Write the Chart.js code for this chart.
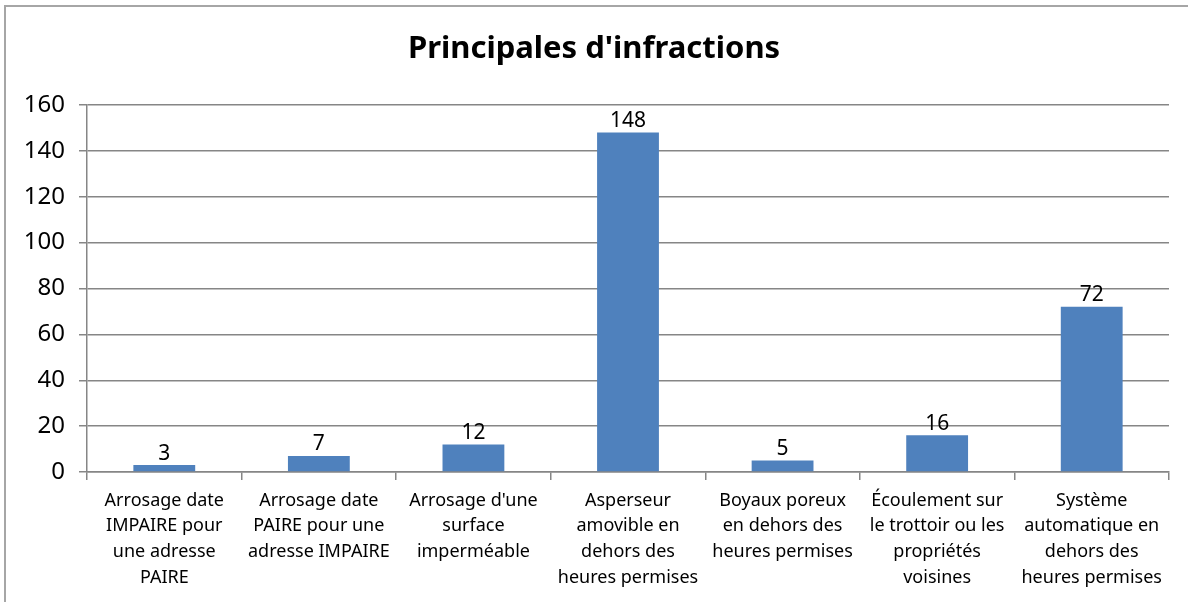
<!DOCTYPE html>
<html>
<head>
<meta charset="utf-8">
<script src="https://cdn.jsdelivr.net/npm/chart.js@4"></script>
<style>
  html, body { margin: 0; padding: 0; background: #fff; }
  #wrap { position: relative; width: 1188px; height: 602px; }
</style>
</head>
<body>
<div id="wrap"><canvas id="myChart" width="1188" height="602"></canvas></div>
<script>
const categories = [
  ["Arrosage date", "IMPAIRE pour", "une adresse", "PAIRE"],
  ["Arrosage date", "PAIRE pour une", "adresse IMPAIRE"],
  ["Arrosage d'une", "surface", "imperméable"],
  ["Asperseur", "amovible en", "dehors des", "heures permises"],
  ["Boyaux poreux", "en dehors des", "heures permises"],
  ["Écoulement sur", "le trottoir ou les", "propriétés", "voisines"],
  ["Système", "automatique en", "dehors des", "heures permises"]
];
const infractions = [3, 7, 12, 148, 5, 16, 72];
const yTicks = [0, 20, 40, 60, 80, 100, 120, 140, 160];
const titleText = "Principales d'infractions";

const FONT = "'Noto Sans', 'Open Sans', sans-serif";
const GRID = "#868686";

// cadre gris autour du graphique (haut + gauche seulement visibles)
const frame = {
  id: "frame",
  beforeDraw(chart) {
    const ctx = chart.ctx;
    ctx.save();
    ctx.strokeStyle = "#a6a6a6";
    ctx.lineWidth = 2;
    ctx.beginPath();
    ctx.moveTo(5, 610);
    ctx.lineTo(5, 6);
    ctx.lineTo(1200, 6);
    ctx.stroke();
    ctx.restore();
  }
};

// valeurs au-dessus des barres
const valueLabels = {
  id: "valueLabels",
  afterDatasetsDraw(chart) {
    const ctx = chart.ctx;
    const meta = chart.getDatasetMeta(0);
    ctx.save();
    ctx.font = "21px " + FONT;
    ctx.fillStyle = "#000";
    ctx.textAlign = "center";
    ctx.textBaseline = "bottom";
    meta.data.forEach((bar, i) => {
      ctx.fillText(String(infractions[i]), bar.x, bar.y - 1);
    });
    ctx.restore();
  }
};

new Chart(document.getElementById("myChart"), {
  type: "bar",
  data: {
    labels: categories,
    datasets: [
      {
        data: infractions,
        backgroundColor: "#4F81BD",
        borderWidth: 0,
        barPercentage: 0.4,
        categoryPercentage: 1.0,
      },
    ],
  },
  options: {
    responsive: false,
    animation: false,
    layout: { padding: 0 },
    scales: {
      y: {
        min: 0,
        max: 160,
        afterBuildTicks: (scale) => {
          scale.ticks = yTicks.map((v) => ({ value: v }));
        },
        afterFit: (scale) => {
          scale.width = 87;
        },
        grid: {
          color: GRID,
          lineWidth: 1.5,
          tickLength: 8,
        },
        border: { color: GRID, width: 1.5 },
        ticks: {
          color: "#000",
          font: { family: FONT, size: 24 },
          padding: 14,
        },
      },
      // axe vide à droite, juste pour la marge (le titre reste centré sur toute la largeur)
      yRight: {
        position: "right",
        afterFit: (scale) => {
          scale.width = 19;
        },
        grid: { display: false },
        border: { display: false },
        ticks: { display: false },
      },
      x: {
        afterFit: (scale) => {
          scale.height = 130;
        },
        grid: {
          offset: true,
          drawOnChartArea: false,
          color: GRID,
          lineWidth: 1.5,
          tickLength: 8,
        },
        border: { color: GRID, width: 1.5 },
        ticks: {
          color: "#000",
          autoSkip: false,
          maxRotation: 0,
          font: { family: FONT, size: 18, lineHeight: 1.42 },
          padding: 8,
        },
      },
    },
    plugins: {
      legend: { display: false },
      tooltip: { enabled: false },
      title: {
        display: true,
        text: titleText,
        color: "#000",
        font: { family: FONT, size: 31, weight: "bold", lineHeight: 1.2 },
        padding: { top: 31, bottom: 36.8 },
      },
    },
  },
  plugins: [frame, valueLabels],
});
</script>
</body>
</html>
